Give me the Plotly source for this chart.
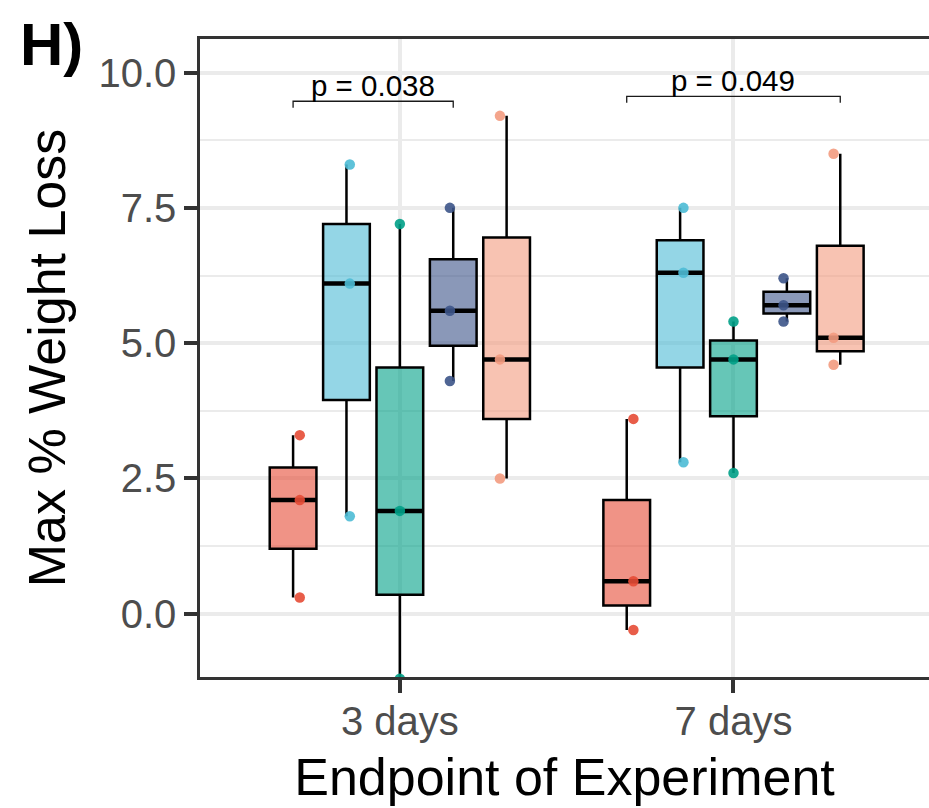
import numpy as np
import plotly.graph_objects as go

# ---------------- data ----------------
categories = ["3 days", "7 days"]
group_colors = ["#E64B35", "#4DBBD5", "#00A087", "#3C5488", "#F39B7F"]

# values per group: [3 days, 7 days]
red_vals = [[0.3, 2.1, 3.3], [-0.3, 0.6, 3.6]]
blue_vals = [[1.8, 6.1, 8.3], [2.8, 6.3, 7.5]]
green_vals = [[-1.2, 1.9, 7.2], [2.6, 4.7, 5.4]]
navy_vals = [[4.3, 5.6, 7.5], [5.4, 5.7, 6.2]]
salmon_vals = [[2.5, 4.7, 9.2], [4.6, 5.1, 8.5]]

# p-value brackets (group indices within each category)
p_labels = ["p = 0.038", "p = 0.049"]
bracket_start = [0, 0]
bracket_end = [3, 4]
bracket_y = [9.47, 9.56]

y_ticks = [0.0, 2.5, 5.0, 7.5, 10.0]
y_title = "Max % Weight Loss"
x_title = "Endpoint of Experiment"
panel_label = "H)"

# ---------------- styling ----------------
all_groups = [red_vals, blue_vals, green_vals, navy_vals, salmon_vals]
n_groups = len(all_groups)
box_dodge = 0.8
point_dodge = 0.75
box_width = 0.7 / n_groups
tip = 0.12
FONT = "Arial, Liberation Sans, Helvetica, sans-serif"


def rgba(hexc, a):
    h = hexc.lstrip("#")
    r, g, b = int(h[0:2], 16), int(h[2:4], 16), int(h[4:6], 16)
    return f"rgba({r},{g},{b},{a})"


def pos(cat_i, g, dodge):
    slot = dodge / n_groups
    return (cat_i + 1) + (g - (n_groups - 1) / 2) * slot


fig = go.Figure()

# boxes
for g, vals in enumerate(all_groups):
    xs, ys = [], []
    for ci, v in enumerate(vals):
        xs += [pos(ci, g, box_dodge)] * len(v)
        ys += v
    fig.add_trace(go.Box(
        x=xs, y=ys, width=box_width, boxpoints=False, whiskerwidth=0,
        quartilemethod="inclusive",
        fillcolor=rgba(group_colors[g], 0.6),
        line=dict(color="black", width=2.5),
        showlegend=False, hoverinfo="skip",
    ))

# thick medians
for g, vals in enumerate(all_groups):
    mx, my = [], []
    for ci, v in enumerate(vals):
        c = pos(ci, g, box_dodge)
        m = float(np.median(v))
        mx += [c - box_width / 2, c + box_width / 2, None]
        my += [m, m, None]
    fig.add_trace(go.Scatter(x=mx, y=my, mode="lines",
                             line=dict(color="black", width=4.5),
                             showlegend=False, hoverinfo="skip"))

# points
for g, vals in enumerate(all_groups):
    px, py = [], []
    for ci, v in enumerate(vals):
        px += [pos(ci, g, point_dodge)] * len(v)
        py += v
    fig.add_trace(go.Scatter(x=px, y=py, mode="markers",
                             marker=dict(color=group_colors[g], size=10.5, opacity=0.9,
                                         line=dict(width=0)),
                             showlegend=False))

# brackets
for ci in range(len(categories)):
    x0 = pos(ci, bracket_start[ci], box_dodge)
    x1 = pos(ci, bracket_end[ci], box_dodge)
    yb = bracket_y[ci]
    fig.add_trace(go.Scatter(x=[x0, x0, x1, x1], y=[yb - tip, yb, yb, yb - tip],
                             mode="lines", line=dict(color="#1a1a1a", width=1.3),
                             showlegend=False, hoverinfo="skip"))
    fig.add_annotation(x=(x0 + x1) / 2, y=yb, text=p_labels[ci], showarrow=False,
                       xanchor="center", yanchor="bottom", yshift=-3,
                       font=dict(family=FONT, size=29.5, color="black"))

fig.add_annotation(xref="paper", yref="paper", x=-0.25, y=1.0, text=f"<b>{panel_label}</b>",
                   showarrow=False, xanchor="left", yanchor="top", yshift=30,
                   font=dict(family=FONT, size=60, color="black"))

fig.update_layout(
    width=929, height=808,
    margin=dict(l=200, r=0, t=39, b=131, autoexpand=False),
    paper_bgcolor="white", plot_bgcolor="white",
    font=dict(family=FONT),
    xaxis=dict(
        range=[0.401, 2.586], tickvals=[1, 2], ticktext=categories,
        automargin=False,
        showgrid=True, gridcolor="#EBEBEB", gridwidth=4,
        showline=True, linecolor="#333333", linewidth=2.5, mirror=True,
        ticks="outside", ticklen=13, tickwidth=4, tickcolor="#333333",
        ticklabelstandoff=-6,
        tickfont=dict(family=FONT, size=40, color="#4D4D4D"),
        title=dict(text=x_title, font=dict(family=FONT, size=52, color="black"), standoff=17),
        zeroline=False,
    ),
    yaxis=dict(
        range=[-1.169, 10.62], tickvals=y_ticks, ticktext=[f"{v:.1f}" for v in y_ticks],
        automargin=False,
        showgrid=True, gridcolor="#EBEBEB", gridwidth=4,
        minor=dict(dtick=1.25, tick0=0, showgrid=True, gridcolor="#EBEBEB", gridwidth=2),
        showline=True, linecolor="#333333", linewidth=2.5, mirror=False,
        ticks="outside", ticklen=13, tickwidth=4, tickcolor="#333333",
        tickfont=dict(family=FONT, size=40, color="#4D4D4D"),
        title=dict(text=y_title, font=dict(family=FONT, size=52, color="black"), standoff=17),
        zeroline=False,
    ),
)

fig.write_html(
    "out.html",
    config={"displayModeBar": False},
    post_script="document.body.style.margin='0';document.body.style.overflow='hidden';",
)
